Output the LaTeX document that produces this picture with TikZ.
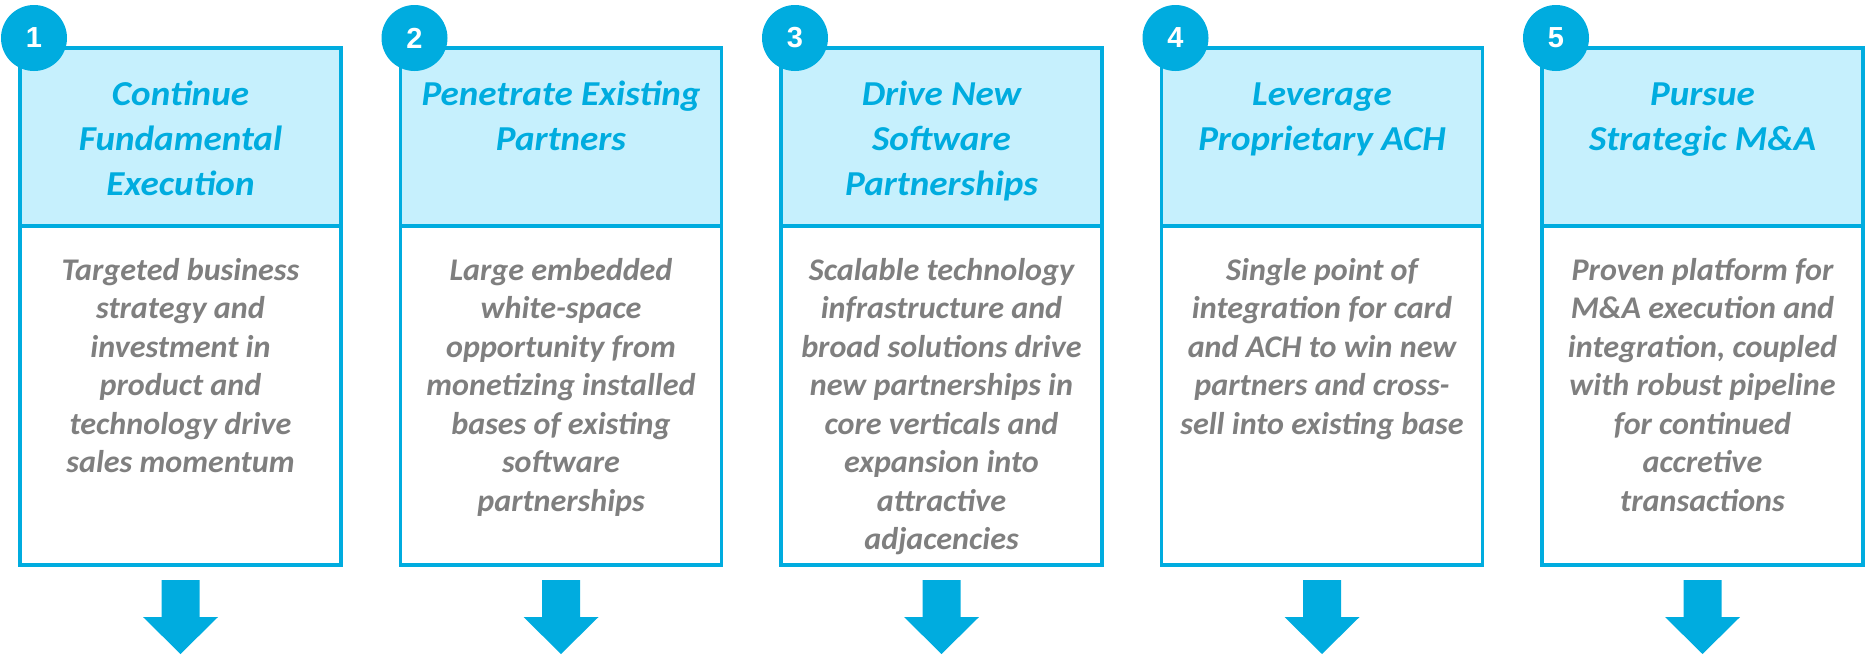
\documentclass[tikz,border=0pt]{standalone}
\usepackage{fontspec}
\setmainfont{Carlito}
\newfontfamily\numfont{Liberation Sans}
\newfontfamily\hdrfont[FakeStretch=1.06]{Carlito}
\newfontfamily\bodyfont[FakeStretch=1.02]{Carlito}
\definecolor{cblue}{HTML}{00ACDF}
\definecolor{clight}{HTML}{C6F0FD}
\definecolor{cgray}{HTML}{7F7F7F}
\tikzset{
  hdrbox/.style={draw=cblue, line width=3.5pt, fill=clight},
  bodybox/.style={draw=cblue, line width=3.5pt, fill=white},
  hdrtext/.style={anchor=north, inner sep=0pt, align=center, text=cblue,
    font=\hdrfont\fontsize{35}{45}\selectfont\bfseries\itshape},
  bodytext/.style={anchor=north, inner sep=0pt, align=center, text=cgray,
    font=\bodyfont\fontsize{31.5}{38.5}\selectfont\bfseries\itshape},
  numcircle/.style={circle, fill=cblue, minimum size=66pt, inner sep=0pt, text=white,
    font=\fontsize{29}{30}\selectfont\numfont\bfseries},
  downarrow/.style={fill=cblue}
}
\begin{document}
\begin{tikzpicture}[x=1pt,y=-1pt]
\useasboundingbox (0,0) rectangle (1866,656);
\foreach \i/\h/\b in {
 1/{Continue\\Fundamental\\Execution}/{Targeted business\\strategy and\\investment in\\product and\\technology drive\\sales momentum},
 2/{Penetrate Existing\\Partners}/{Large embedded\\white-space\\opportunity from\\monetizing installed\\bases of existing\\software\\partnerships},
 3/{Drive New\\Software\\Partnerships}/{Scalable technology\\infrastructure and\\broad solutions drive\\new partnerships in\\core verticals and\\expansion into\\attractive\\adjacencies},
 4/{Leverage\\Proprietary ACH}/{Single point of\\integration for card\\and ACH to win new\\partners and cross-\\sell into existing base},
 5/{Pursue\\Strategic M\&A}/{Proven platform for\\M\&A execution and\\integration, coupled\\with robust pipeline\\for continued\\accretive\\transactions}}
{
  \pgfmathsetmacro{\L}{20+380.5*(\i-1)}
  \pgfmathsetmacro{\R}{\L+321}
  \pgfmathsetmacro{\C}{\L+160.5}
  \draw[bodybox] (\L,226) rectangle (\R,565);
  \draw[hdrbox] (\L,48) rectangle (\R,226);
  \coordinate (hc\i) at (\C,73.5);
  \coordinate (bc\i) at (\C,253);
  \node[hdrtext] (h\i) at (hc\i) {\strut\h};
  \node[bodytext] (b\i) at (bc\i) {\strut\b};
  \node[numcircle] (n\i) at (\L+14,38) {\i};
  \fill[downarrow] (\C-19,580) -- (\C+19,580) -- (\C+19,617) -- (\C+37.5,617)
     -- (\C,654) -- (\C-37.5,617) -- (\C-19,617) -- cycle;
}
\end{tikzpicture}
\end{document}
